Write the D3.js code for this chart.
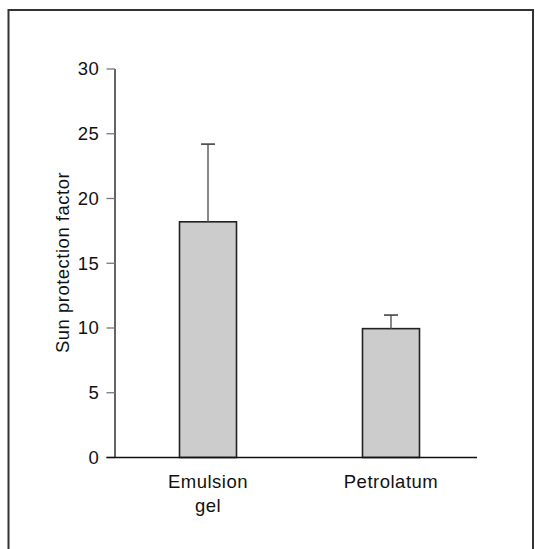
<!DOCTYPE html>
<html>
<head>
<meta charset="utf-8">
<script src="https://cdn.jsdelivr.net/npm/d3@7"></script>
<style>
  body { margin: 0; background: #fff; }
  text { font-family: "Liberation Sans", Arial, sans-serif; fill: #111; }
</style>
</head>
<body>
<div id="chart"></div>
<script>
// Data
const categories = ["Emulsion gel", "Petrolatum"];
const categoryLines = [["Emulsion", "gel"], ["Petrolatum"]];
const means = [18.2, 9.95];
const errors = [6.0, 1.05];
const yTicks = [0, 5, 10, 15, 20, 25, 30];

const W = 535, H = 549;

const svg = d3.select("#chart")
    .append("svg")
    .attr("width", W)
    .attr("height", H);

// outer frame (bottom runs off the page)
svg.append("rect")
    .attr("x", 8.5)
    .attr("y", 10)
    .attr("width", 524.5)
    .attr("height", 580)
    .attr("fill", "none")
    .attr("stroke", "#333")
    .attr("stroke-width", 2);

// scales
const y = d3.scaleLinear().domain([0, 30]).range([457.5, 69]);
const x = d3.scaleBand()
    .domain(categories)
    .range([115, 484])
    .paddingInner(0.6885)
    .paddingOuter(0.3525);

const axisX = 115;

// y axis line
svg.append("line")
    .attr("x1", axisX).attr("x2", axisX)
    .attr("y1", y(30)).attr("y2", y(0))
    .attr("stroke", "#111")
    .attr("stroke-width", 1.3);

// y ticks + labels
const tick = svg.append("g").selectAll("g")
    .data(yTicks)
    .enter()
    .append("g");

tick.append("line")
    .attr("x1", axisX - 8.5).attr("x2", axisX)
    .attr("y1", (d) => y(d)).attr("y2", (d) => y(d))
    .attr("stroke", "#777")
    .attr("stroke-width", 1.3);

tick.append("text")
    .attr("x", 99)
    .attr("y", (d) => y(d))
    .attr("dy", "0.35em")
    .attr("text-anchor", "end")
    .style("font-size", "18.5px")
    .style("letter-spacing", "0.3px")
    .text((d) => d);

// bars
svg.append("g").selectAll("rect")
    .data(categories)
    .enter()
    .append("rect")
    .attr("x", (d) => x(d))
    .attr("y", (d, i) => y(means[i]))
    .attr("width", x.bandwidth())
    .attr("height", (d, i) => y(0) - y(means[i]))
    .attr("fill", "#cccccc")
    .attr("stroke", "#222")
    .attr("stroke-width", 1.6);

// error bars (upper only)
const err = svg.append("g").selectAll("g")
    .data(categories)
    .enter()
    .append("g");

err.append("line")
    .attr("x1", (d) => x(d) + x.bandwidth() / 2)
    .attr("x2", (d) => x(d) + x.bandwidth() / 2)
    .attr("y1", (d, i) => y(means[i]))
    .attr("y2", (d, i) => y(means[i] + errors[i]))
    .attr("stroke", "#555")
    .attr("stroke-width", 1.4);

err.append("line")
    .attr("x1", (d) => x(d) + x.bandwidth() / 2 - 7)
    .attr("x2", (d) => x(d) + x.bandwidth() / 2 + 7)
    .attr("y1", (d, i) => y(means[i] + errors[i]))
    .attr("y2", (d, i) => y(means[i] + errors[i]))
    .attr("stroke", "#444")
    .attr("stroke-width", 1.6);

// x axis line
svg.append("line")
    .attr("x1", axisX - 8.5).attr("x2", 477)
    .attr("y1", y(0)).attr("y2", y(0))
    .attr("stroke", "#111")
    .attr("stroke-width", 1.3);

// x labels
const xl = svg.append("g").selectAll("text")
    .data(categories)
    .enter()
    .append("text")
    .attr("text-anchor", "middle")
    .style("font-size", "18.5px")
    .style("letter-spacing", "0.5px")
    .attr("transform", (d) => `translate(${x(d) + x.bandwidth() / 2},488)`);

xl.selectAll("tspan")
    .data((d, i) => categoryLines[i])
    .enter()
    .append("tspan")
    .attr("x", 0)
    .attr("y", (d, j) => j * 23.5)
    .text((d) => d);

// y axis title
svg.append("text")
    .attr("transform", "translate(69,262.5) rotate(-90)")
    .attr("text-anchor", "middle")
    .style("font-size", "18.5px")
    .style("letter-spacing", "0.5px")
    .text("Sun protection factor");
</script>
</body>
</html>
